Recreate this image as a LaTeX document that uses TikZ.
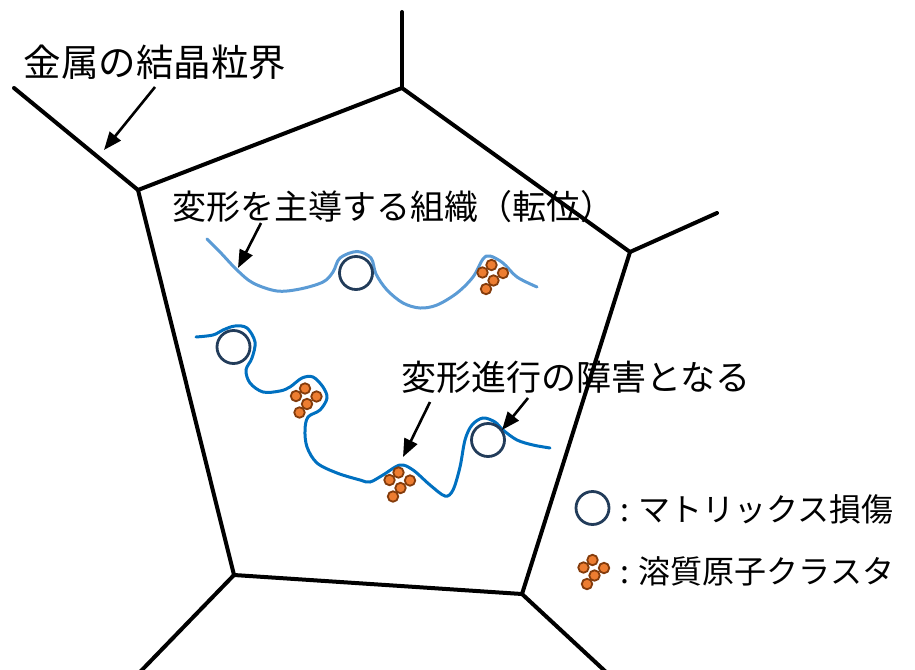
\documentclass[tikz,border=0pt]{standalone}
\usepackage{fontspec}
\usetikzlibrary{arrows.meta}
\newfontfamily\jp{Noto Sans CJK JP}
\definecolor{gbline}{HTML}{000000}
\definecolor{dislA}{HTML}{5B9BD5}
\definecolor{dislB}{HTML}{0070C0}
\definecolor{dmgline}{HTML}{223C5A}
\definecolor{atomfill}{HTML}{ED7D31}
\definecolor{atomline}{HTML}{843C0C}
\tikzset{
  boundary/.style={line width=4pt, line cap=round, line join=miter},
  disl/.style={line width=3pt, line cap=round},
  dmg/.style={circle, draw=dmgline, line width=2.8pt, minimum size=33pt, inner sep=0pt, fill=none},
  atom/.style={circle, draw=atomline, fill=atomfill, line width=1.8pt, minimum size=10.5pt, inner sep=0pt},
  callout/.style={line width=2.6pt, -{Triangle[length=18pt,width=14pt]}},
  label/.style={font=\jp, inner sep=0pt, text=black},
  cluster/.pic={
    \foreach \dx/\dy in {0/0,-9/7.5,11.5/8,2/15.5,-5.5/24}
      \node[atom] at (\dx,\dy) {};
  }
}
\begin{document}
\begin{tikzpicture}[x=1pt,y=-1pt]
\useasboundingbox (0,0) rectangle (915,669);

% grain boundaries
\coordinate (gT) at (402,88);
\coordinate (gR) at (630,252);
\coordinate (gBR) at (522,594);
\coordinate (gBL) at (234,575);
\coordinate (gL) at (138,190);
\coordinate (eT) at (402,12);
\coordinate (eR) at (717,213);
\coordinate (eBR) at (606,672);
\coordinate (eBL) at (140,672);
\coordinate (eL) at (14,88);
\draw[boundary] (gT) -- (gR) -- (gBR) -- (gBL) -- (gL) -- cycle;
\draw[boundary] (gT) -- (eT);
\draw[boundary] (gR) -- (eR);
\draw[boundary] (gBR) -- (eBR);
\draw[boundary] (gBL) -- (eBL);
\draw[boundary] (gL) -- (eL);

% dislocation lines
\draw[disl, dislA] plot[smooth, tension=0.55] coordinates {
  (207,239) (220,252) (237,270) (253,283) (277,291) (300,289) (323,282)
  (333,272) (340,258) (357,251.5) (371,258) (376,274) (387,290) (403,303)
  (420,308) (437,305) (457,293) (473,277) (483,259) (490,256) (503,263)
  (517,277) (537,287)};
\draw[disl, dislB] plot[smooth, tension=0.55] coordinates {
  (196,337) (213,335) (223,330) (235,326) (247,328) (255,342) (252,358)
  (246,370) (250,383) (263,392) (280,391) (290,387) (302,378) (313,377)
  (323,387) (327,398) (320,410) (308,417) (305,430) (307,447) (317,463)
  (337,473) (360,480) (370,482) (383,475) (400,465) (413,470) (430,485)
  (445,496) (453,490) (460,467) (465,440) (472,425) (483,418) (495,422)
  (503,430) (517,440) (533,445) (550,448)};

% matrix damage
\node[dmg] (d1) at (356,273) {};
\node[dmg] (d2) at (233.5,347) {};
\node[dmg] (d3) at (488,440) {};

% solute clusters
\pic at (491.5,265) {cluster};
\pic at (305,388.5) {cluster};
\pic at (398.5,472.5) {cluster};

% labels
\node[label, font=\jp\fontsize{37.5}{40}\selectfont] (tGB) at (155,62) {金属の結晶粒界};
\node[label, font=\jp\fontsize{34}{37}\selectfont] (tDis) at (393,207) {変形を主導する組織（転位）};
\node[label, font=\jp\fontsize{35}{38}\selectfont] (tObs) at (576,377) {変形進行の障害となる};

% callout arrows
\coordinate (aGBs) at (155,87);
\coordinate (aGBe) at (104,150);
\coordinate (aDs) at (261,223);
\coordinate (aDe) at (238,268);
\coordinate (aO1s) at (430,402);
\coordinate (aO1e) at (403,457);
\coordinate (aO2s) at (528,398);
\coordinate (aO2e) at (502,430);
\draw[callout] (aGBs) -- (aGBe);
\draw[callout] (aDs) -- (aDe);
\draw[callout] (aO1s) -- (aO1e);
\draw[callout] (aO2s) -- (aO2e);

% legend
\node[dmg] (lg1) at (592.5,508) {};
\pic at (592.5,560) {cluster};
\node[label, anchor=west, font=\jp\fontsize{32}{35}\selectfont] (lt1) at (620,509) {: マトリックス損傷};
\node[label, anchor=west, font=\jp\fontsize{32}{35}\selectfont] (lt2) at (620,571) {: 溶質原子クラスタ};
\end{tikzpicture}
\end{document}
